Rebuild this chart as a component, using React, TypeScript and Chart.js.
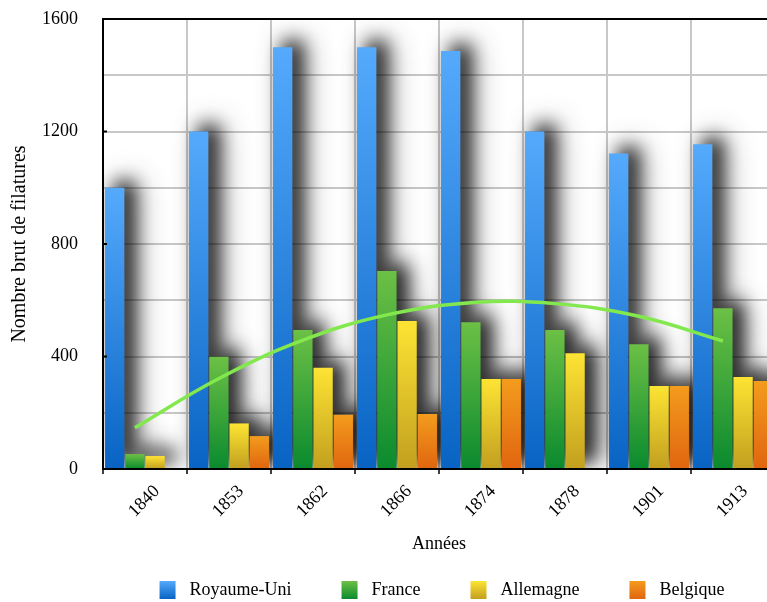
import React, { useEffect, useRef } from 'react';
import { Chart, registerables } from 'chart.js';

Chart.register(...registerables);

// ---------- data ----------
const years = ['1840', '1853', '1862', '1866', '1874', '1878', '1901', '1913'];
const royaumeUni = [1000, 1200, 1500, 1500, 1486, 1200, 1122, 1155];
const france = [53, 399, 494, 704, 522, 494, 444, 572];
const allemagne = [46, 162, 360, 526, 320, 412, 295, 327];
const belgique = [null, 117, 193, 196, 320, null, 295, 313];
const franceTrend = [147, 322, 458, 548, 591, 588, 543, 455];
const seriesNames = ['Royaume-Uni', 'France', 'Allemagne', 'Belgique'];
const xAxisTitle = 'Années';
const yAxisTitle = 'Nombre brut de filatures';
const yMax = 1600;
const yGridStep = 200;
const yLabelStep = 400;

// ---------- styles ----------
const FONT = '"Liberation Serif", "Times New Roman", serif';
const palettes: [string, string][] = [
  ['#55aafc', '#0863c3'],
  ['#6cc045', '#0a8a2e'],
  ['#fde433', '#c29f1f'],
  ['#f39c1d', '#e0650f'],
];
const CAT_PCT = 0.962;
const BAR_PCT = 0.955;
const NUM_BARS = seriesNames.length;

const barFill = (top: string, bottom: string) => (c: any) => {
  const chart = c.chart;
  const ys = chart.scales && chart.scales.y;
  if (!chart.chartArea || !ys || c.type !== 'data') return top;
  const v = c.raw;
  if (v == null) return top;
  const y0 = ys.getPixelForValue(v);
  const y1 = ys.getPixelForValue(0);
  if (!isFinite(y0) || !isFinite(y1) || y0 === y1) return top;
  const g = chart.ctx.createLinearGradient(0, y0, 0, y1);
  g.addColorStop(0, top);
  g.addColorStop(1, bottom);
  return g;
};

const shadowPasses = [
  { color: 'rgba(0,0,0,0.45)', blur: 30, dx: 13, dy: -7 },
  { color: 'rgba(0,0,0,0.85)', blur: 18, dx: 10, dy: -6 },
];

const shadowPlugin = {
  id: 'barShadow',
  beforeDatasetsDraw(chart: any) {
    const { ctx, chartArea } = chart;
    ctx.save();
    ctx.beginPath();
    ctx.rect(chartArea.left, chartArea.top, chartArea.right - chartArea.left, chartArea.bottom - chartArea.top);
    ctx.clip();
    const OFF = 2000;
    ctx.fillStyle = '#000';
    for (const p of shadowPasses) {
      ctx.shadowColor = p.color;
      ctx.shadowBlur = p.blur;
      ctx.shadowOffsetX = OFF + p.dx;
      ctx.shadowOffsetY = p.dy;
      chart.data.datasets.forEach((ds: any, i: number) => {
        if (ds.type === 'line') return;
        const meta = chart.getDatasetMeta(i);
        meta.data.forEach((el: any, j: number) => {
          if (ds.data[j] == null) return;
          const { x, y, base, width } = el.getProps(['x', 'y', 'base', 'width'], true);
          if (!isFinite(y) || !isFinite(base)) return;
          const top = Math.min(y, base);
          const h = Math.abs(base - y);
          if (h <= 0) return;
          ctx.fillRect(x - width / 2 - OFF, top, width, h);
        });
      });
    }
    ctx.restore();
  },
};

// the France trend curve sits over the France bars (2nd slot of each group)
const trendShiftPlugin = {
  id: 'trendShift',
  beforeDatasetDraw(chart: any, args: any) {
    const ds = chart.data.datasets[args.index];
    if (!ds || ds.type !== 'line') return;
    const xs = chart.scales.x;
    const catW = xs.getPixelForValue(1) - xs.getPixelForValue(0);
    const dx = -(catW * CAT_PCT) / (2 * NUM_BARS);
    chart.ctx.save();
    chart.ctx.translate(dx, 0);
  },
  afterDatasetDraw(chart: any, args: any) {
    const ds = chart.data.datasets[args.index];
    if (!ds || ds.type !== 'line') return;
    chart.ctx.restore();
  },
};

// small inner tick marks on the y axis at the labelled values
const yMarksPlugin = {
  id: 'yMarks',
  afterDatasetsDraw(chart: any) {
    const { ctx } = chart;
    const ys = chart.scales.y;
    ctx.save();
    ctx.strokeStyle = '#000';
    ctx.lineWidth = 2;
    for (let v = 0; v <= yMax; v += yLabelStep) {
      const py = ys.getPixelForValue(v);
      ctx.beginPath();
      ctx.moveTo(ys.right, py);
      ctx.lineTo(ys.right + 4, py);
      ctx.stroke();
    }
    ctx.restore();
  },
};

const legendPlugin = {
  id: 'bottomLegend',
  afterDraw(chart: any) {
    const { ctx, chartArea } = chart;
    ctx.save();
    ctx.font = `18px ${FONT}`;
    const boxW = 16;
    const boxH = 18;
    const gap = 14;
    const spacing = 50;
    const items = chart.data.datasets
      .map((d: any, i: number) => ({ d, i }))
      .filter((o: any) => o.d.type !== 'line');
    const widths = items.map((o: any) => boxW + gap + ctx.measureText(o.d.label).width);
    const total = widths.reduce((a: number, b: number) => a + b, 0) + spacing * (items.length - 1);
    let x = (chartArea.left + chartArea.right) / 2 - total / 2 + 3;
    const cy = chart.height - 12;
    items.forEach((o: any, k: number) => {
      const [t, b] = palettes[o.i];
      const g = ctx.createLinearGradient(0, cy - boxH / 2, 0, cy + boxH / 2);
      g.addColorStop(0, t);
      g.addColorStop(1, b);
      ctx.fillStyle = g;
      ctx.fillRect(x, cy - boxH / 2, boxW, boxH);
      ctx.fillStyle = '#000';
      ctx.textBaseline = 'middle';
      ctx.textAlign = 'left';
      ctx.fillText(o.d.label, x + boxW + gap, cy);
      x += widths[k] + spacing;
    });
    ctx.restore();
  },
};

export default function App() {
  const ref = useRef<HTMLCanvasElement | null>(null);

  useEffect(() => {
    if (!ref.current) return;
    const seriesData = [royaumeUni, france, allemagne, belgique];
    const barSets = seriesData.map((data, i) => ({
      type: 'bar' as const,
      label: seriesNames[i],
      data,
      backgroundColor: barFill(palettes[i][0], palettes[i][1]),
      borderWidth: 0,
      order: 1,
      categoryPercentage: CAT_PCT,
      barPercentage: BAR_PCT,
    }));
    const trendSet = {
      type: 'line' as const,
      label: 'Tendance France',
      data: franceTrend,
      borderColor: '#82e84e',
      borderWidth: 3.5,
      pointRadius: 0,
      tension: 0.4,
      fill: false,
      order: 0,
    };

    const chart = new Chart(ref.current, {
      type: 'bar',
      data: { labels: years, datasets: [...barSets, trendSet] as any },
      options: {
        animation: false,
        responsive: false,
        layout: { padding: { top: 19, right: 5, bottom: 46.7, left: 0 } },
        plugins: { legend: { display: false }, tooltip: { enabled: false } },
        scales: {
          x: {
            type: 'category',
            offset: true,
            grid: {
              offset: true,
              color: '#c8c8c8',
              lineWidth: 2,
              tickLength: 5,
              tickColor: '#000',
              tickWidth: 1.5,
              drawTicks: true,
            },
            border: { color: '#000', width: 2 },
            ticks: {
              minRotation: 45,
              maxRotation: 45,
              autoSkip: false,
              padding: 7,
              labelOffset: 12,
              color: '#000',
              font: { family: FONT, size: 18 },
            },
            title: {
              display: true,
              text: xAxisTitle,
              color: '#000',
              font: { family: FONT, size: 18 },
              padding: { top: 0, bottom: 0 },
            },
            afterFit: (s: any) => {
              s.height = 86.3;
            },
          },
          y: {
            min: 0,
            max: yMax,
            ticks: {
              stepSize: yGridStep,
              callback: (v: any) => (Number(v) % yLabelStep === 0 ? String(v) : ''),
              padding: 25,
              color: '#000',
              font: { family: FONT, size: 18 },
            },
            grid: {
              color: (c: any) => (c.tick && c.tick.value === yMax ? '#000' : '#c8c8c8'),
              lineWidth: 2,
              drawTicks: false,
            },
            border: { color: '#000', width: 2 },
            title: {
              display: true,
              text: yAxisTitle,
              color: '#000',
              font: { family: FONT, size: 20 },
              padding: { top: 8, bottom: 0 },
            },
            afterFit: (s: any) => {
              s.width = 103;
              s.paddingTop = 8;
              s.paddingBottom = 8;
            },
          },
        },
      } as any,
      plugins: [shadowPlugin, trendShiftPlugin, yMarksPlugin, legendPlugin],
    });
    return () => chart.destroy();
  }, []);

  return (
    <div
      style={{
        position: 'fixed',
        left: 0,
        top: 0,
        width: 767,
        height: 602,
        overflow: 'hidden',
        background: '#fff',
      }}
    >
      <canvas ref={ref} width={780} height={602} style={{ display: 'block', width: 780, height: 602 }} />
    </div>
  );
}
